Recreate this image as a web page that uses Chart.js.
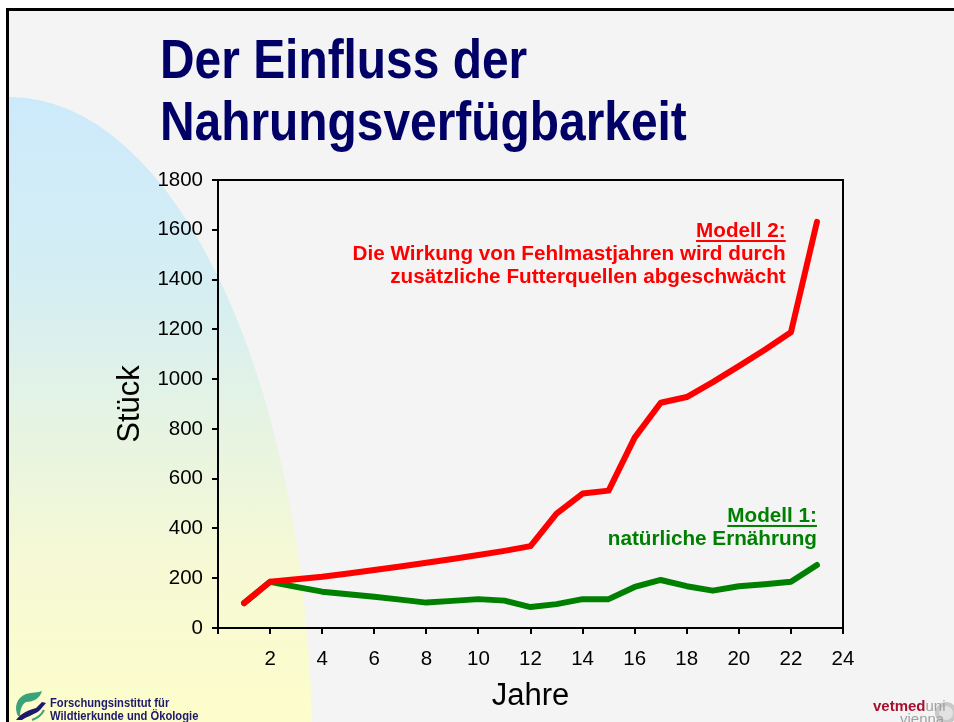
<!DOCTYPE html>
<html>
<head>
<meta charset="utf-8">
<script src="https://cdn.jsdelivr.net/npm/chart.js@4.4.1/dist/chart.umd.min.js"></script>
<style>
  html, body { margin:0; padding:0; background:#ffffff; width:954px; height:722px; overflow:hidden; }
  #slide { position:absolute; left:6px; top:8px; width:948px; height:714px; background:#f4f4f4;
           border-left:3px solid #000; border-top:3px solid #000; box-sizing:border-box; overflow:hidden; }
  #bg { position:absolute; left:0; top:0; }
  #chart { position:absolute; left:0; top:0; }
  .title { position:absolute; left:160px; top:28px; font-family:"Liberation Sans", Arial, sans-serif;
           font-weight:bold; font-size:56px; line-height:62px; color:#000066; white-space:nowrap;
           transform:scaleX(0.855); transform-origin:0 0; letter-spacing:0; }
  .inst { position:absolute; left:50px; top:696px; font-family:"Liberation Sans", Arial, sans-serif;
          font-weight:bold; font-size:13px; line-height:13px; color:#1b1a6b; white-space:nowrap;
          transform:scaleX(0.86); transform-origin:0 0; }
  .vet { position:absolute; left:873px; top:699px; font-family:"Liberation Sans", Arial, sans-serif;
         font-size:15px; line-height:13px; white-space:nowrap; }
  .vet b { color:#a5112e; }
  .vet span { color:#a0a0a0; }
</style>
</head>
<body>
<div id="slide"></div>
<svg id="bg" width="954" height="722">
  <defs>
    <linearGradient id="g" x1="0" y1="97" x2="0" y2="722" gradientUnits="userSpaceOnUse">
      <stop offset="0" stop-color="#cdeafc"/>
      <stop offset="0.3" stop-color="#d5eef3"/>
      <stop offset="0.5" stop-color="#e4f3e4"/>
      <stop offset="0.75" stop-color="#f6f9d4"/>
      <stop offset="1" stop-color="#fdfdcb"/>
    </linearGradient>
    <clipPath id="c"><rect x="9" y="11" width="945" height="711"/></clipPath>
  </defs>
  <ellipse cx="10" cy="750" rx="302" ry="653" fill="url(#g)" clip-path="url(#c)"/>
  <g transform="translate(12,690)">
    <path d="M6 26 C2 18 4 8 14 4 C20 2 26 3 30 1 C28 8 22 12 14 12 C10 14 8 20 8 26 Z" fill="#3aa37a"/>
    <path d="M4 30 C10 22 18 20 24 18 L30 12 L34 13 L28 20 C24 24 16 26 10 30 Z" fill="#1b1a6b"/>
    <path d="M20 30 C26 28 30 24 32 20" stroke="#3aa37a" stroke-width="2" fill="none"/>
  </g>
  <circle cx="946" cy="713" r="11" fill="#c8c8c8"/>
  <circle cx="946" cy="713" r="7" fill="#e2e2e2"/>
</svg>
<canvas id="chart" width="954" height="722"></canvas>
<div class="title">Der Einfluss der<br>Nahrungsverfügbarkeit</div>
<div class="inst">Forschungsinstitut für<br>Wildtierkunde und Ökologie</div>
<div class="vet"><b>vetmed</b><span>uni</span><br><span style="padding-left:27px">vienna</span></div>
<script>
const years   = [1,2,3,4,5,6,7,8,9,10,11,12,13,14,15,16,17,18,19,20,21,22,23];
const modell2 = [100,186,196,206,219,233,247,262,277,293,310,329,460,540,552,765,905,928,988,1052,1118,1188,1632];
const modell1 = [100,186,165,146,136,126,114,102,109,116,110,84,96,116,116,165,193,168,150,168,176,186,253];
const xTicksMax = 24;
const yTicksMax = 1800;
const annotations = [
  { lines: ['Modell 2:', 'Die Wirkung von Fehlmastjahren wird durch', 'zusätzliche Futterquellen abgeschwächt'],
    color: '#ff0000', x: 21.8, y: 1571 },
  { lines: ['Modell 1:', 'natürliche Ernährung'], color: '#008000', x: 23.0, y: 426 }
];

const FAMILY = '"Liberation Sans", Arial, Helvetica, sans-serif';
Chart.defaults.font.family = FAMILY;
Chart.defaults.color = '#000';

const framePlugin = {
  id: 'frame',
  beforeDatasetsDraw(chart) {
    const { ctx, chartArea: a } = chart;
    ctx.save();
    ctx.strokeStyle = '#000';
    ctx.lineWidth = 2;
    ctx.beginPath();
    ctx.moveTo(a.left, a.top);
    ctx.lineTo(a.right, a.top);
    ctx.lineTo(a.right, a.bottom);
    ctx.stroke();
    ctx.restore();
  }
};

const annotPlugin = {
  id: 'annot',
  afterDatasetsDraw(chart) {
    const { ctx, scales } = chart;
    ctx.save();
    ctx.font = 'bold 20.7px ' + FAMILY;
    ctx.textAlign = 'right';
    ctx.textBaseline = 'alphabetic';
    annotations.forEach(an => {
      const xr = scales.x.getPixelForValue(an.x);
      const y0 = scales.y.getPixelForValue(an.y);
      ctx.fillStyle = an.color;
      an.lines.forEach((t, i) => ctx.fillText(t, xr, y0 + i * 23));
      const w = ctx.measureText(an.lines[0]).width;
      ctx.fillRect(xr - w, y0 + 3, w, 2);
    });
    ctx.restore();
  }
};

new Chart(document.getElementById('chart'), {
  type: 'line',
  data: {
    datasets: [
      { label: 'Modell 2', data: years.map((x, i) => ({ x, y: modell2[i] })), borderColor: '#ff0000',
        borderWidth: 6, pointRadius: 0, tension: 0, borderCapStyle: 'round', borderJoinStyle: 'round', fill: false },
      { label: 'Modell 1', data: years.map((x, i) => ({ x, y: modell1[i] })), borderColor: '#008000',
        borderWidth: 6, pointRadius: 0, tension: 0, borderCapStyle: 'round', borderJoinStyle: 'round', fill: false }
    ]
  },
  options: {
    responsive: false, animation: false, events: [],
    layout: { padding: { left: 100, top: 180, right: 111, bottom: 0 } },
    plugins: { legend: { display: false }, tooltip: { enabled: false } },
    scales: {
      x: {
        type: 'linear', min: 0, max: xTicksMax,
        ticks: { stepSize: 2, color: '#000', font: { size: 20.5 }, padding: 13, maxRotation: 0, autoSkip: false,
                 callback: v => (v === 0 ? '' : String(v)) },
        grid: { drawOnChartArea: false, drawTicks: true, tickLength: 6, color: '#000', lineWidth: 2 },
        border: { display: true, color: '#000', width: 2 },
        title: { display: true, text: 'Jahre', color: '#000', font: { size: 31 }, padding: { top: 0, bottom: 7 } },
        afterFit: s => { s.height = 94; }
      },
      y: {
        type: 'linear', min: 0, max: yTicksMax,
        ticks: { stepSize: 200, color: '#000', font: { size: 20.5 }, padding: 9, callback: v => String(v) },
        grid: { drawOnChartArea: false, drawTicks: true, tickLength: 6, color: '#000', lineWidth: 2 },
        border: { display: true, color: '#000', width: 2 },
        title: { display: true, text: 'Stück', color: '#000', font: { size: 31 }, padding: { top: 12, bottom: 0 } },
        afterFit: s => { s.width = 118; }
      }
    }
  },
  plugins: [framePlugin, annotPlugin]
});
</script>
</body>
</html>
